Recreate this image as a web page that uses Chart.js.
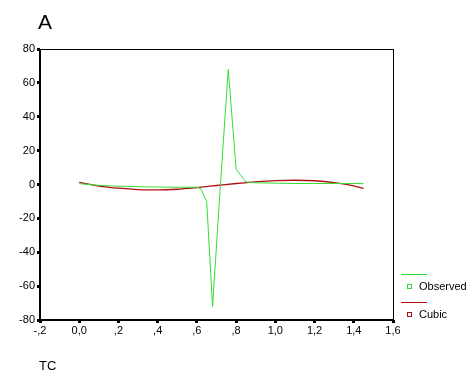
<!DOCTYPE html>
<html>
<head>
<meta charset="utf-8">
<script src="https://cdn.jsdelivr.net/npm/chart.js@4"></script>
<style>
  html, body { margin: 0; padding: 0; background: #fff; }
  #wrap { position: relative; width: 476px; height: 381px; }
</style>
</head>
<body>
<div id="wrap"><canvas id="c" width="476" height="381"></canvas></div>
<script>
'use strict';

// TC values and the observed series
var obsX = [0.00, 0.10, 0.20, 0.30, 0.40, 0.50, 0.60, 0.62, 0.65, 0.68, 0.72, 0.76, 0.80, 0.85, 0.90, 1.00, 1.10, 1.20, 1.30, 1.40, 1.45];
var obsY = [0.5, -0.5, -1.0, -1.3, -1.5, -1.6, -1.6, -2.5, -10, -72, 0, 68, 9, 1.5, 1.0, 0.8, 0.6, 0.6, 0.6, 0.6, 0.5];

// cubic fit
var fitX = [0.00, 0.10, 0.20, 0.30, 0.40, 0.50, 0.60, 0.70, 0.80, 0.90, 1.00, 1.10, 1.20, 1.30, 1.40, 1.45];
var fitY = [1.2, -0.9, -2.2, -3.0, -3.2, -2.8, -1.8, -0.6, 0.6, 1.6, 2.3, 2.5, 2.2, 1.1, -0.8, -2.3];

var xTicks = [-0.2, 0, 0.2, 0.4, 0.6, 0.8, 1.0, 1.2, 1.4, 1.6];
var yTicks = [-80, -60, -40, -20, 0, 20, 40, 60, 80];

var seriesNames = ['Observed', 'Cubic'];
var seriesColors = ['#33dd33', '#b01010'];

function pairs(xs, ys) {
  return xs.map(function(x, i) { return { x: x, y: ys[i] }; });
}

// SPSS style tick text: ,2  0,0  1,4
function fmtX(v) {
  var s = Math.abs(v).toFixed(1).replace('.', ',');
  if (Math.abs(v) < 1 && v !== 0) s = s.substring(1);
  return (v < 0 ? '-' : '') + s;
}

// frame box, title, axis title and side legend
var decor = {
  id: 'decor',
  afterDraw: function(chart) {
    var ctx = chart.ctx;
    var a = chart.chartArea;
    ctx.save();
    ctx.strokeStyle = '#000';
    ctx.lineWidth = 1;
    ctx.strokeRect(a.left + 0.5, a.top + 0.5, a.right - a.left, a.bottom - a.top);
    ctx.lineWidth = 2;
    ctx.beginPath();
    ctx.moveTo(a.left, a.top);
    ctx.lineTo(a.left, a.bottom);
    ctx.lineTo(a.right, a.bottom);
    ctx.stroke();

    ctx.fillStyle = '#000';
    ctx.textBaseline = 'middle';
    ctx.textAlign = 'left';
    ctx.font = '21px "Liberation Sans", Arial, sans-serif';
    ctx.fillText('A', 38, 23);
    ctx.font = '13px "Liberation Sans", Arial, sans-serif';
    ctx.fillText('TC', 39, 366);

    ctx.font = '11px "Liberation Sans", Arial, sans-serif';
    var lx = 401;
    [274, 302].forEach(function(y, i) {
      ctx.strokeStyle = seriesColors[i];
      ctx.lineWidth = 1;
      ctx.beginPath();
      ctx.moveTo(lx, y + 0.5);
      ctx.lineTo(lx + 26, y + 0.5);
      ctx.stroke();
      ctx.strokeRect(lx + 6.5, y + 10.5, 4, 4);
      ctx.fillStyle = '#000';
      ctx.fillText(seriesNames[i], lx + 18, y + 13);
    });
    ctx.restore();
  }
};

new Chart(document.getElementById('c'), {
  type: 'line',
  data: {
    datasets: [{
      label: seriesNames[0],
      data: pairs(obsX, obsY),
      borderColor: seriesColors[0],
      borderWidth: 1,
      pointRadius: 0,
      tension: 0,
      fill: false
    }, {
      label: seriesNames[1],
      data: pairs(fitX, fitY),
      borderColor: seriesColors[1],
      borderWidth: 1.3,
      pointRadius: 0,
      tension: 0.4,
      cubicInterpolationMode: 'monotone',
      fill: false
    }]
  },
  options: {
    responsive: false,
    animation: false,
    events: [],
    layout: {
      padding: { left: 0, top: 49, right: 83, bottom: 0 }
    },
    scales: {
      x: {
        type: 'linear',
        min: -0.2,
        max: 1.6,
        afterFit: function(s) { s.height = 61; },
        afterBuildTicks: function(s) { s.ticks = xTicks.map(function(v) { return { value: v }; }); },
        grid: { drawOnChartArea: false, tickLength: 3, tickWidth: 3, color: '#000' },
        border: { display: false },
        ticks: {
          color: '#000',
          padding: 1,
          font: { family: '"Liberation Sans", Arial, sans-serif', size: 11 },
          callback: function(v) { return fmtX(v); }
        }
      },
      y: {
        min: -80,
        max: 80,
        afterFit: function(s) { s.width = 40; },
        afterBuildTicks: function(s) { s.ticks = yTicks.map(function(v) { return { value: v }; }); },
        grid: { drawOnChartArea: false, tickLength: 3, tickWidth: 3, color: '#000' },
        border: { display: false },
        ticks: {
          color: '#000',
          padding: 2,
          font: { family: '"Liberation Sans", Arial, sans-serif', size: 11 }
        }
      }
    },
    plugins: {
      legend: { display: false },
      tooltip: { enabled: false },
      title: { display: false }
    }
  },
  plugins: [decor]
});
</script>
</body>
</html>
